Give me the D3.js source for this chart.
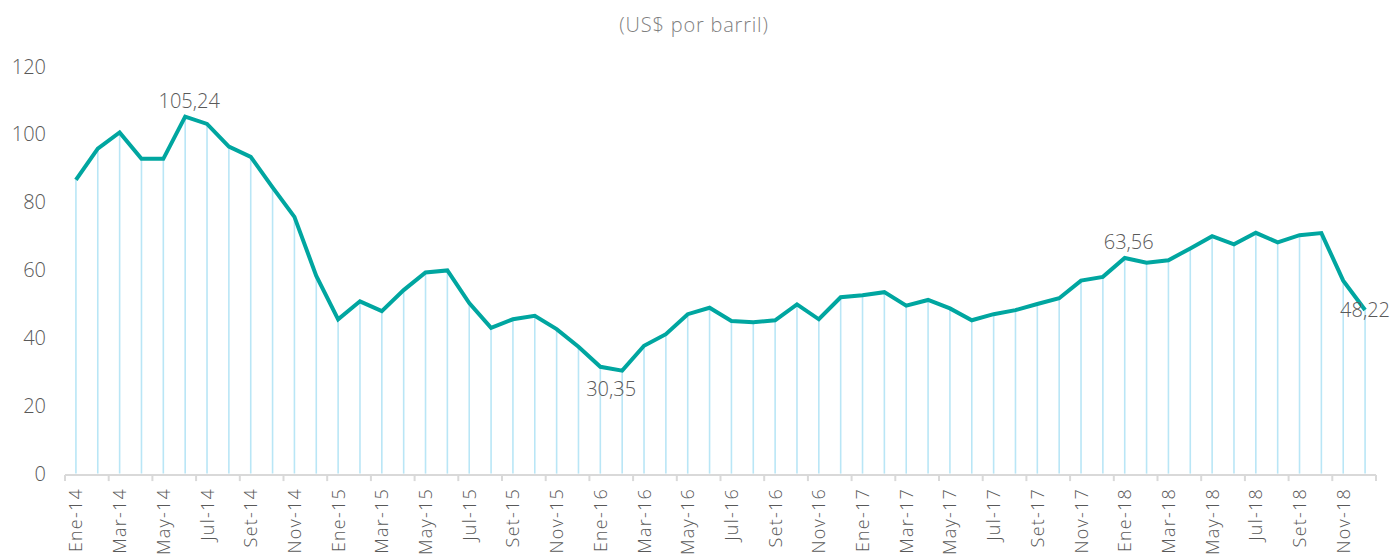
<!DOCTYPE html>
<html>
<head>
<meta charset="utf-8">
<script src="https://cdn.jsdelivr.net/npm/d3@7"></script>
<style>
  html, body { margin: 0; padding: 0; background: #fff; }
  svg { display: block; font-family: "Open Sans", "Noto Sans", sans-serif; }
</style>
</head>
<body>
<svg id="chart" width="1393" height="555"></svg>
<script>
const monthNames = ["Ene","Feb","Mar","Abr","May","Jun","Jul","Ago","Set","Oct","Nov","Dic"];
const years = ["14","15","16","17","18"];
const categories = [];
years.forEach(y => monthNames.forEach(m => categories.push(m + "-" + y)));

const values2014 = [86.6, 95.8, 100.6, 92.8, 92.8, 105.24, 103.1, 96.4, 93.4, 84.4, 75.7, 58.3];
const values2015 = [45.5, 50.8, 47.9, 54.1, 59.3, 59.9, 50.3, 43.0, 45.5, 46.5, 42.6, 37.4];
const values2016 = [31.5, 30.35, 37.7, 41.1, 47.0, 48.9, 45.0, 44.6, 45.2, 49.9, 45.5, 52.0];
const values2017 = [52.6, 53.5, 49.5, 51.2, 48.7, 45.2, 47.0, 48.2, 50.0, 51.7, 56.9, 58.0];
const values2018 = [63.56, 62.2, 62.9, 66.4, 70.0, 67.6, 71.0, 68.2, 70.3, 70.9, 56.9, 48.22];
const values = [].concat(values2014, values2015, values2016, values2017, values2018);

const yTicks = [0, 20, 40, 60, 80, 100, 120];
const title = "(US$ por barril)";
// data labels: [category, text, placement]
const dataLabels = [
  ["Jun-14", "105,24", "above"],
  ["Feb-16", "30,35", "below"],
  ["Ene-18", "63,56", "above"],
  ["Dic-18", "48,22", "center"]
];

const svg = d3.select("#chart");
const x = d3.scaleBand().domain(categories).range([65, 1376]).padding(0);
const y = d3.scaleLinear().domain([0, 120]).range([473.6, 66.6]);
const cx = d => x(d) + x.bandwidth() / 2;

// title
svg.append("text")
  .attr("x", 694).attr("y", 32)
  .attr("text-anchor", "middle")
  .attr("font-size", 20).attr("font-weight", 300)
  .attr("letter-spacing", 0.8)
  .attr("fill", "#7f7f7f")
  .text(title);

// y axis labels
const yAxis = d3.axisLeft(y).tickValues(yTicks).tickSize(0).tickPadding(0);
const gy = svg.append("g").attr("transform", "translate(46,0)").call(yAxis);
gy.select(".domain").remove();
gy.selectAll("text")
  .attr("font-size", 20).attr("font-weight", 300)
  .attr("fill", "#595959")
  .attr("font-family", "\"Open Sans\", \"Noto Sans\", sans-serif");

// drop lines
svg.append("g").selectAll("line")
  .data(categories)
  .join("line")
  .attr("x1", d => cx(d)).attr("x2", d => cx(d))
  .attr("y1", (d, i) => y(values[i])).attr("y2", y(0))
  .attr("stroke", "#b9e6f6").attr("stroke-width", 1.6);

// x axis
const boundaryTicks = categories.filter((d, i) => i % 2 === 0);
const axisY = y(0) + 1.5;
const gx = svg.append("g").attr("transform", `translate(0,${axisY})`);
gx.append("line")
  .attr("x1", x.range()[0]).attr("x2", x.range()[1])
  .attr("stroke", "#d9d9d9").attr("stroke-width", 2);
gx.selectAll("line.tick")
  .data(boundaryTicks.concat([null]))
  .join("line").attr("class", "tick")
  .attr("x1", d => d === null ? x.range()[1] : x(d))
  .attr("x2", d => d === null ? x.range()[1] : x(d))
  .attr("y1", 0).attr("y2", 6)
  .attr("stroke", "#d9d9d9").attr("stroke-width", 2);
gx.selectAll("text")
  .data(boundaryTicks)
  .join("text")
  .attr("transform", d => `translate(${cx(d) + 6.5},13) rotate(-90)`)
  .attr("text-anchor", "end")
  .attr("font-size", 18).attr("font-weight", 300)
  .attr("letter-spacing", 1.2)
  .attr("fill", "#595959")
  .text(d => d);

// line
const line = d3.line()
  .x((d, i) => cx(categories[i]))
  .y(d => y(d));
svg.append("path")
  .datum(values)
  .attr("d", line)
  .attr("fill", "none")
  .attr("stroke", "#00a6a0")
  .attr("stroke-width", 4)
  .attr("stroke-linejoin", "miter");

// data labels
svg.append("g").selectAll("text")
  .data(dataLabels)
  .join("text")
  .attr("x", d => cx(d[0]) + (d[2] === "below" ? -11 : (d[2] === "above" ? 4 : 0)))
  .attr("y", d => {
    const v = values[categories.indexOf(d[0])];
    if (d[2] === "above") return y(v) - 9;
    if (d[2] === "below") return y(v) + 25;
    return y(v) + 7;
  })
  .attr("text-anchor", "middle")
  .attr("font-size", 20).attr("font-weight", 300)
  .attr("fill", "#595959")
  .text(d => d[1]);
</script>
</body>
</html>
